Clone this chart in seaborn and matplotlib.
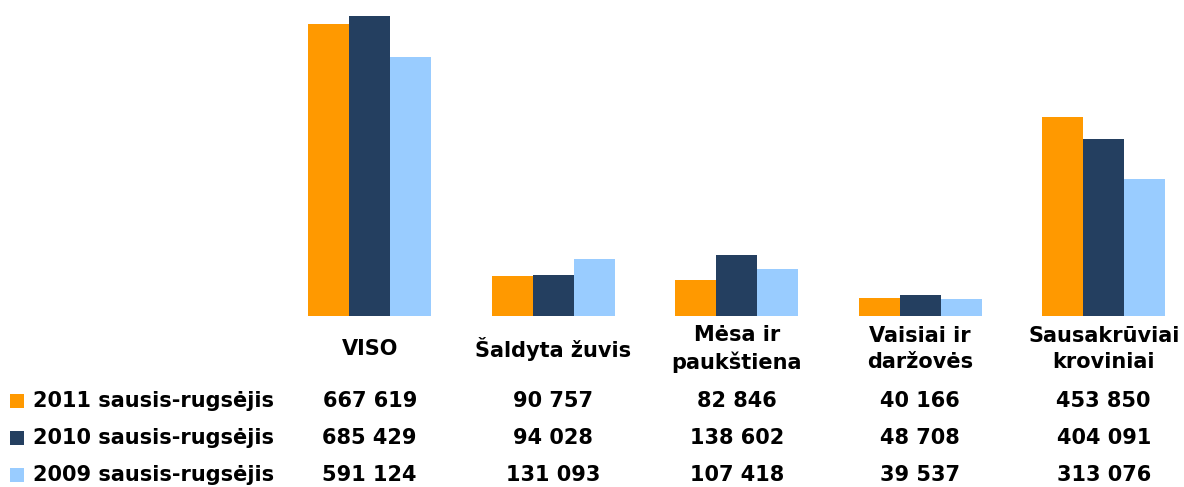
import pandas as pd
import matplotlib
matplotlib.use("Agg")
import matplotlib.pyplot as plt
import matplotlib.transforms as mtransforms
from matplotlib.patches import Rectangle
import seaborn as sns

categories = ["VISO", "Šaldyta žuvis", "Mėsa ir\npaukštiena", "Vaisiai ir\ndaržovės", "Sausakrūviai\nkroviniai"]
series = ["2011 sausis-rugsėjis", "2010 sausis-rugsėjis", "2009 sausis-rugsėjis"]
values_2011 = [667619, 90757, 82846, 40166, 453850]
values_2010 = [685429, 94028, 138602, 48708, 404091]
values_2009 = [591124, 131093, 107418, 39537, 313076]
colors = ["#FF9900", "#243F60", "#99CCFF"]

rows = []
for name, vals in zip(series, [values_2011, values_2010, values_2009]):
    for cat, v in zip(categories, vals):
        rows.append({"cat": cat, "series": name, "value": v})
df = pd.DataFrame(rows)

sns.set_style("white")
plt.rcParams["font.family"] = ["DejaVu Sans"]
plt.rcParams["text.color"] = "black"

W, H = 1184, 487
fig = plt.figure(figsize=(W / 100, H / 100), dpi=100)
ax = fig.add_axes([278 / W, (H - 316) / H, (W - 278) / W, 316 / H])
sns.barplot(data=df, x="cat", y="value", hue="series", order=categories,
            hue_order=series, palette=colors, saturation=1, width=0.67,
            legend=False, ax=ax, linewidth=0)
ax.set_xlim(-0.5, -0.5 + (W - 278) / 183.5)
ax.set_ylim(0, 722000)
ax.axis("off")

trans = mtransforms.blended_transform_factory(ax.transData, fig.transFigure)


def fy(ypx):
    return 1 - ypx / H


for i, cat in enumerate(categories):
    ax.text(i, fy(349), cat, transform=trans, ha="center", va="center",
            fontsize=15, fontweight="bold", linespacing=1.35, color="black")

row_y = [401, 438, 475]
for name, vals, c, y in zip(series, [values_2011, values_2010, values_2009], colors, row_y):
    fig.patches.append(Rectangle((10 / W, fy(y + 7)), 14 / W, 14 / H,
                                 transform=fig.transFigure, facecolor=c,
                                 edgecolor="none"))
    fig.text(33 / W, fy(y), name, ha="left", va="center", fontsize=15,
             fontweight="bold", color="black")
    for i, v in enumerate(vals):
        ax.text(i, fy(y), f"{v:,}".replace(",", " "), transform=trans,
                ha="center", va="center", fontsize=15, fontweight="bold",
                color="black")

fig.savefig("out.png", dpi=100)
